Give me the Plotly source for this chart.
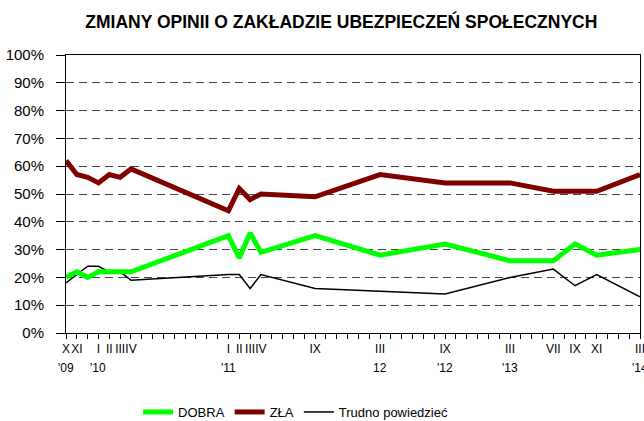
import plotly.graph_objects as go

# months with survey data (YYYY-MM)
months = ["2009-10", "2009-11", "2009-12", "2010-01", "2010-02", "2010-03", "2010-04",
          "2011-01", "2011-02", "2011-03", "2011-04", "2011-09", "2012-03", "2012-09",
          "2013-03", "2013-07", "2013-09", "2013-11", "2014-03"]
dobra = [20, 22, 20, 22, 22, 22, 22, 35, 27, 36, 29, 35, 28, 32, 26, 26, 32, 28, 30]
zla = [62, 57, 56, 54, 57, 56, 59, 44, 52, 48, 50, 49, 57, 54, 54, 51, 51, 51, 57]
trudno = [18, 21, 24, 24, 22, 22, 19, 21, 21, 16, 21, 16, 15, 14, 20, 23, 17, 21, 13]

# month tick labels (roman numerals) shown on the axis
tick_months = ["2009-10", "2009-11", "2010-01", "2010-02", "2010-03", "2010-04",
               "2011-01", "2011-02", "2011-03", "2011-04", "2011-09", "2012-03",
               "2012-09", "2013-03", "2013-07", "2013-09", "2013-11", "2014-03"]
tick_labels = ["X", "XI", "I", "II", "III", "IV",
               "I", "II", "III", "IV", "IX", "III",
               "IX", "III", "VII", "IX", "XI", "III"]
# year labels under selected months
year_months = ["2009-10", "2010-01", "2011-01", "2012-03", "2012-09", "2013-03", "2014-03"]
year_labels = ["'09", "'10", "'11", "12", "'12", "'13", "'14"]

# full month category list for the axis
all_months = []
y, m = 2009, 10
while (y, m) <= (2014, 3):
    all_months.append(f"{y}-{m:02d}")
    m += 1
    if m > 12:
        m = 1
        y += 1

label_map = dict(zip(tick_months, tick_labels))
ticktext = [label_map.get(mm, "") for mm in all_months]

fig = go.Figure()
fig.add_trace(go.Scatter(x=months, y=trudno, mode="lines", name="Trudno powiedzieć",
                         line=dict(color="black", width=1.5), legendrank=3))
fig.add_trace(go.Scatter(x=months, y=dobra, mode="lines", name="DOBRA",
                         line=dict(color="#00FF00", width=5), legendrank=1))
fig.add_trace(go.Scatter(x=months, y=zla, mode="lines", name="ZŁA",
                         line=dict(color="#800000", width=5), legendrank=2))

for xm, lab in zip(year_months, year_labels):
    fig.add_annotation(x=xm, y=0, xref="x", yref="paper", text=lab, showarrow=False,
                       yanchor="top", yshift=-26, font=dict(size=12, color="black"))

fig.update_layout(
    width=644, height=421,
    margin=dict(l=66, r=4, t=55, b=88, autoexpand=False),
    paper_bgcolor="white", plot_bgcolor="white",
    font=dict(family="Liberation Sans, Arial, sans-serif", color="black"),
    title=dict(text="<b>ZMIANY OPINII O ZAKŁADZIE UBEZPIECZEŃ SPOŁECZNYCH</b>",
               x=0.53, xanchor="center", y=1 - 22 / 421, yref="container", yanchor="middle",
               font=dict(size=17.5, color="black")),
    showlegend=True,
    legend=dict(orientation="h", x=0.40, xanchor="center",
                y=1 - 412 / 421, yref="container", yanchor="middle",
                font=dict(size=13), itemwidth=30, traceorder="normal"),
)
fig.update_xaxes(
    type="category", categoryorder="array", categoryarray=all_months,
    range=[0, len(all_months) - 1], automargin=False,
    tickmode="array", tickvals=all_months, ticktext=ticktext,
    ticks="outside", ticklen=5, tickcolor="black", tickfont=dict(size=12),
    tickangle=0,
    showline=True, linecolor="black", linewidth=1, mirror=True,
    showgrid=False, zeroline=False,
)
fig.update_yaxes(
    range=[0, 100], tickvals=list(range(0, 101, 10)), automargin=False,
    ticktext=[f"{v}%" for v in range(0, 101, 10)],
    ticks="outside", ticklen=9, tickcolor="black", tickfont=dict(size=15),
    ticklabelstandoff=9,
    showline=True, linecolor="black", linewidth=1, mirror=True,
    showgrid=True, gridcolor="#444444", gridwidth=1, griddash="8px,5px",
    zeroline=False,
)

fig.write_html("out.html", config={"displayModeBar": False},
               post_script="document.body.style.margin='0';")
